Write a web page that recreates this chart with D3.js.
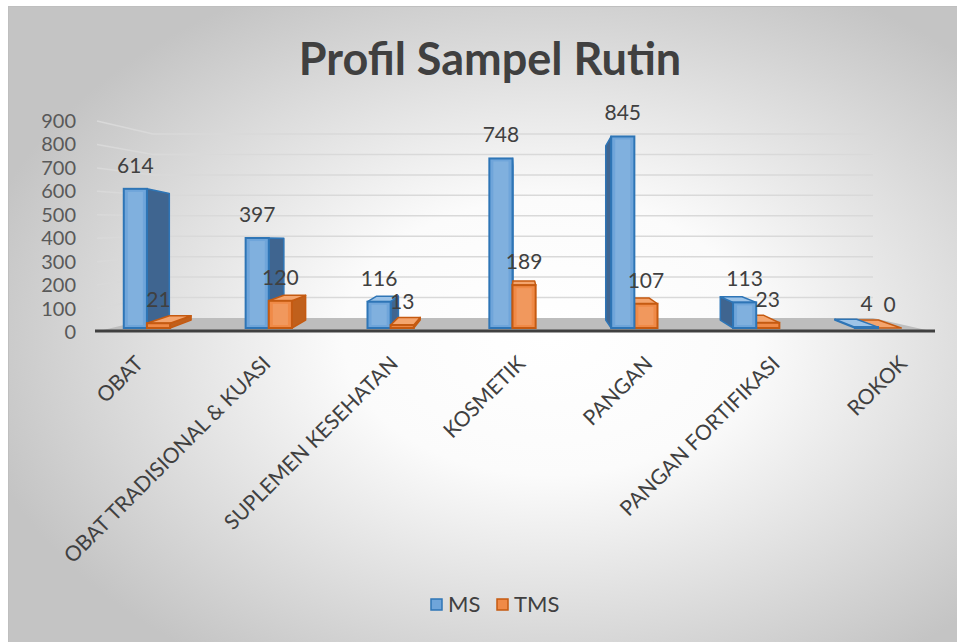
<!DOCTYPE html>
<html>
<head>
<meta charset="utf-8">
<script src="https://cdn.jsdelivr.net/npm/d3@7"></script>
<style>
  body { margin: 0; background: #fff; }
  text { font-family: Lato, "Open Sans", sans-serif; }
</style>
</head>
<body>
<script>
var categories = ["OBAT", "OBAT TRADISIONAL & KUASI", "SUPLEMEN KESEHATAN", "KOSMETIK", "PANGAN", "PANGAN FORTIFIKASI", "ROKOK"];
var seriesNames = ["MS", "TMS"];
var msValues = [614, 397, 116, 748, 845, 113, 4];
var tmsValues = [21, 120, 13, 189, 107, 23, 0];
var yTicks = [0, 100, 200, 300, 400, 500, 600, 700, 800, 900];

var width = 957,
    height = 642;

// vanishing point for the fake 3d look
var vx = 520, vy = 240;
var kx = 0.06, ky = 0.09;

var colors = {
    MS: { front: "#6fa5da", edge: "#2e75b6", side: "#3f6590", top: "#9cc3e8" },
    TMS: { front: "#f08a47", edge: "#c55a11", side: "#c0601c", top: "#f4a56e" }
};

var svg = d3.select("body").append("svg")
    .attr("width", width)
    .attr("height", height);

var defs = svg.append("defs");
var bg = defs.append("radialGradient")
    .attr("id", "bg")
    .attr("cx", "0.57").attr("cy", "0.52").attr("r", "0.62");
bg.append("stop").attr("offset", "0").attr("stop-color", "#ffffff");
bg.append("stop").attr("offset", "0.35").attr("stop-color", "#fbfbfb");
bg.append("stop").attr("offset", "1").attr("stop-color", "#c4c4c4");

svg.append("rect")
    .attr("x", 8.5).attr("y", 6.5)
    .attr("width", width - 8).attr("height", height - 6)
    .attr("fill", "url(#bg)")
    .attr("stroke", "#bfbfbf");

// title
svg.append("text")
    .attr("x", 490).attr("y", 75)
    .attr("text-anchor", "middle")
    .attr("font-size", "45px")
    .attr("font-weight", "bold")
    .attr("fill", "#404040")
    .text("Profil Sampel Rutin");

var x0 = d3.scaleBand()
    .domain(categories)
    .range([86, 939])
    .paddingInner(0.62)
    .paddingOuter(0.31);

var x1 = d3.scaleBand()
    .domain(seriesNames)
    .range([0, x0.bandwidth()]);

// front labels, back wall and bars use slightly different vertical scales
var yFront = d3.scaleLinear().domain([0, 900]).range([332, 121]);
var yBack = d3.scaleLinear().domain([0, 900]).range([318, 134]);
var yBar = d3.scaleLinear().domain([0, 900]).range([328, 124]);

var wallLeft = 153, wallRight = 873, frontLeft = 97;

// gridlines
svg.append("g").selectAll("polyline")
    .data(yTicks.slice(1))
    .enter().append("polyline")
    .attr("points", function(d) {
        return [[frontLeft, yFront(d)], [wallLeft, yBack(d)], [wallRight, yBack(d)]].join(" ");
    })
    .attr("fill", "none")
    .attr("stroke", "#d9d9d9")
    .attr("stroke-width", 1.5);

// floor
svg.append("polygon")
    .attr("points", [[95, yFront(0)], [wallLeft, yBack(0)], [wallRight, yBack(0)], [935, yFront(0)]].join(" "))
    .attr("fill", "#bdbdbd");
svg.append("line")
    .attr("x1", 95).attr("x2", 935)
    .attr("y1", yFront(0) - 1).attr("y2", yFront(0) - 1)
    .attr("stroke", "#404040")
    .attr("stroke-width", 3);

// y tick labels
svg.append("g").selectAll("text")
    .data(yTicks)
    .enter().append("text")
    .attr("x", 76)
    .attr("y", function(d) { return yFront(d) + 7; })
    .attr("text-anchor", "end")
    .attr("font-size", "20px")
    .attr("fill", "#595959")
    .text(function(d) { return d; });

function project(p) {
    return [p[0] + (vx - p[0]) * kx, p[1] + (vy - p[1]) * ky];
}

var bars = [];
categories.forEach(function(c, i) {
    bars.push({ cat: c, s: "MS", v: msValues[i] });
    bars.push({ cat: c, s: "TMS", v: tmsValues[i] });
});
bars.forEach(function(d) {
    d.x = x0(d.cat) + x1(d.s);
    d.w = x1.bandwidth();
    d.top = yBar(d.v);
    d.bottom = yBar(0);
    d.cx = d.x + d.w / 2;
});
// far bars first
bars.sort(function(a, b) {
    return Math.abs(b.cx - vx) - Math.abs(a.cx - vx);
});

var barG = svg.append("g");
bars.forEach(function(d) {
    var g = barG.append("g");
    var col = colors[d.s];
    var x1p = d.x, x2p = d.x + d.w;
    var sideX = d.cx < vx ? x2p : x1p;
    var sTop = project([sideX, d.top]),
        sBot = project([sideX, d.bottom]);
    g.append("polygon")
        .attr("points", [[sideX, d.top], sTop, sBot, [sideX, d.bottom]].join(" "))
        .attr("fill", col.side)
        .attr("stroke", col.edge)
        .attr("stroke-width", 1.5)
        .attr("stroke-linejoin", "round");
    if (d.top > vy) {
        g.append("polygon")
            .attr("points", [[x1p, d.top], project([x1p, d.top]), project([x2p, d.top]), [x2p, d.top]].join(" "))
            .attr("fill", col.top)
            .attr("stroke", col.edge)
            .attr("stroke-width", 1.5)
            .attr("stroke-linejoin", "round");
    }
    if (d.bottom - d.top > 0.5) {
        g.append("rect")
            .attr("x", x1p).attr("y", d.top)
            .attr("width", d.w).attr("height", d.bottom - d.top)
            .attr("fill", col.front)
            .attr("stroke", col.edge)
            .attr("stroke-width", 2);
        g.append("rect")
            .attr("x", x1p + 4).attr("y", d.top + 3)
            .attr("width", Math.max(0, d.w - 8)).attr("height", Math.max(0, d.bottom - d.top - 6))
            .attr("fill", "#ffffff")
            .attr("opacity", 0.12);
    }
});

// data labels
svg.append("g").selectAll("text")
    .data(bars)
    .enter().append("text")
    .attr("x", function(d) { return d.cx; })
    .attr("y", function(d) { return d.top - 16; })
    .attr("text-anchor", "middle")
    .attr("font-size", "21px")
    .attr("fill", "#404040")
    .text(function(d) { return d.v; });

// category labels follow the front edge of the floor
var xLabel = d3.scaleBand()
    .domain(categories)
    .range([81, 972]);

svg.append("g").selectAll("text")
    .data(categories)
    .enter().append("text")
    .attr("transform", function(d) {
        return "translate(" + (xLabel(d) + xLabel.bandwidth() / 2) + ",365) rotate(-45)";
    })
    .attr("text-anchor", "end")
    .attr("font-size", "21px")
    .attr("fill", "#404040")
    .text(function(d) { return d; });

// legend
var legend = svg.append("g")
    .attr("transform", "translate(431,599)");
var item = legend.selectAll("g")
    .data(seriesNames)
    .enter().append("g")
    .attr("transform", function(d, i) { return "translate(" + (i * 66) + ",0)"; });
item.append("rect")
    .attr("width", 11).attr("height", 11)
    .attr("fill", function(d) { return colors[d].front; })
    .attr("stroke", function(d) { return colors[d].edge; })
    .attr("stroke-width", 1.5);
item.append("text")
    .attr("x", 17).attr("y", 13)
    .attr("font-size", "22px")
    .attr("fill", "#404040")
    .text(function(d) { return d; });
</script>
</body>
</html>
